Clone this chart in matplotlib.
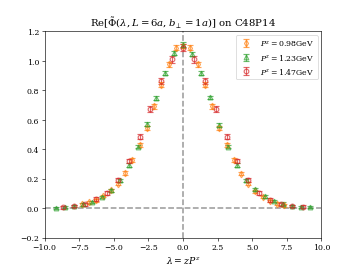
import matplotlib
matplotlib.use("Agg")
import matplotlib.pyplot as plt
import numpy as np

plt.rcParams['font.family'] = ['DejaVu Serif']
plt.rcParams['mathtext.fontset'] = 'dejavuserif'

# lambda = z * P^z values
lam_098 = [-7.330, -6.807, -6.283, -5.760, -5.236, -4.712, -4.189, -3.665, -3.142, -2.618,
           -2.094, -1.571, -1.047, -0.524, 0.0, 0.524, 1.047, 1.571, 2.094, 2.618, 3.142,
           3.665, 4.189, 4.712, 5.236, 5.760, 6.283, 6.807, 7.330]
re_098 = [0.025, 0.041, 0.052, 0.082, 0.120, 0.166, 0.238, 0.326, 0.428, 0.542,
          0.690, 0.838, 0.975, 1.088, 1.100, 1.088, 0.975, 0.838, 0.690, 0.542, 0.428,
          0.326, 0.234, 0.166, 0.114, 0.075, 0.048, 0.030, 0.018]
err_098 = [0.010, 0.010, 0.010, 0.010, 0.010, 0.012, 0.012, 0.013, 0.014, 0.014,
           0.015, 0.015, 0.016, 0.016, 0.016, 0.016, 0.016, 0.015, 0.015, 0.014, 0.014,
           0.013, 0.012, 0.012, 0.010, 0.010, 0.010, 0.010, 0.010]

lam_123 = [-9.163, -8.508, -7.854, -7.199, -6.545, -5.890, -5.236, -4.581, -3.927, -3.272,
           -2.618, -1.963, -1.309, -0.654, 0.0, 0.654, 1.309, 1.963, 2.618, 3.272, 3.927,
           4.581, 5.236, 5.890, 6.545, 7.199, 7.854, 8.508, 9.163]
re_123 = [0.000, 0.007, 0.014, 0.025, 0.041, 0.075, 0.120, 0.189, 0.292, 0.417,
          0.570, 0.747, 0.917, 1.054, 1.110, 1.047, 0.917, 0.751, 0.565, 0.417, 0.292,
          0.189, 0.128, 0.080, 0.048, 0.030, 0.014, 0.007, 0.007]
err_123 = [0.008, 0.008, 0.008, 0.008, 0.009, 0.009, 0.010, 0.010, 0.011, 0.011,
           0.012, 0.012, 0.013, 0.013, 0.014, 0.013, 0.013, 0.012, 0.012, 0.011, 0.011,
           0.010, 0.010, 0.009, 0.009, 0.008, 0.008, 0.008, 0.008]

lam_147 = [-8.639, -7.854, -7.069, -6.283, -5.498, -4.712, -3.927, -3.142, -2.356, -1.571,
           -0.785, 0.0, 0.785, 1.571, 2.356, 3.142, 3.927, 4.712, 5.498, 6.283, 7.069,
           7.854, 8.639]
re_147 = [0.007, 0.014, 0.025, 0.060, 0.105, 0.189, 0.319, 0.485, 0.674, 0.865,
          1.009, 1.090, 1.009, 0.861, 0.674, 0.485, 0.319, 0.189, 0.105, 0.055, 0.025,
          0.014, 0.009]
err_147 = [0.010, 0.010, 0.011, 0.012, 0.013, 0.015, 0.016, 0.018, 0.019, 0.020,
           0.021, 0.022, 0.021, 0.020, 0.019, 0.018, 0.016, 0.015, 0.013, 0.012, 0.011,
           0.010, 0.010]

labels = [r'$P^z = 0.98$GeV', r'$P^z = 1.23$GeV', r'$P^z = 1.47$GeV']
colors = ['#ff7f0e', '#2ca02c', '#d62728']
markers = ['d', '^', 'o']

fig = plt.figure(figsize=(6.4, 4.8), dpi=55.8)
ax = fig.add_subplot(111)

ax.axhline(0, color='gray', ls='--', lw=2, alpha=0.8, zorder=0)
ax.axvline(0, color='gray', ls='--', lw=2, alpha=0.8, zorder=0)

series = [(lam_098, re_098, err_098), (lam_123, re_123, err_123), (lam_147, re_147, err_147)]
for (x, y, e), lab, c, m in zip(series, labels, colors, markers):
    ax.errorbar(x, y, yerr=e, fmt=m, color=c, mfc='none', ms=6, mew=1.5,
                capsize=3.5, elinewidth=1.5, alpha=0.7, label=lab)

ax.set_xlim(-10, 10)
ax.set_ylim(-0.2, 1.2)
ax.set_xlabel(r'$\lambda = zP^z$', fontsize=12)
ax.set_title(r'Re[$\tilde{\Phi}(\lambda, L=6a, b_\perp=1a)$] on C48P14', fontsize=13)
ax.tick_params(labelsize=10)
ax.legend(loc='upper right', fontsize=10)

fig.savefig('out.png', dpi=55.8)
